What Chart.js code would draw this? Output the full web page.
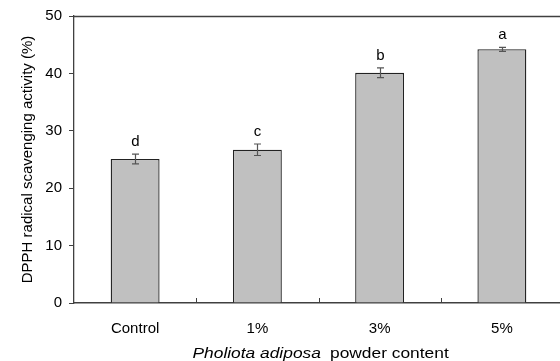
<!DOCTYPE html>
<html>
<head>
<meta charset="utf-8">
<script src="https://cdn.jsdelivr.net/npm/chart.js@4/dist/chart.umd.min.js"></script>
<style>
  html,body{margin:0;padding:0;background:#fff;overflow:hidden}
  #wrap{width:566px;height:361px}
</style>
</head>
<body>
<div id="wrap"><canvas id="c" width="566" height="361"></canvas></div>
<script>
// data
const categories = ['Control', '1%', '3%', '5%'];
const values = [25.1, 26.7, 40.1, 44.2];
const errors = [0.85, 1.0, 0.85, 0.35];
const letters = ['d', 'c', 'b', 'a'];
const yTicks = [0, 10, 20, 30, 40, 50];

const FONT = 'Liberation Sans, Arial, sans-serif';
const AXIS = '#404040';

// error bars, letters, top border, inward x ticks, axis titles
const extras = {
  id: 'extras',
  afterDatasetsDraw(chart){
    const ctx = chart.ctx, y = chart.scales.y, a = chart.chartArea;
    const meta = chart.getDatasetMeta(0);
    ctx.save();
    // top border
    ctx.strokeStyle = AXIS; ctx.lineWidth = 1.3;
    ctx.beginPath(); ctx.moveTo(a.left, a.top + 0.5); ctx.lineTo(a.right, a.top + 0.5); ctx.stroke();
    // x ticks between categories, pointing up
    const step = (a.right - a.left) / categories.length;
    ctx.lineWidth = 1;
    for(let i = 1; i < categories.length; i++){
      const px = Math.round(a.left + step * i) + 0.5;
      ctx.beginPath(); ctx.moveTo(px, a.bottom); ctx.lineTo(px, a.bottom - 5); ctx.stroke();
    }
    // error bars and letters
    meta.data.forEach((bar, i) => {
      const cx = Math.round(bar.x) + 0.5;
      const top = y.getPixelForValue(values[i] + errors[i]);
      const bot = y.getPixelForValue(values[i] - errors[i]);
      ctx.strokeStyle = '#555'; ctx.lineWidth = 1.2;
      ctx.beginPath();
      ctx.moveTo(cx, top); ctx.lineTo(cx, bot);
      ctx.moveTo(cx - 3.5, top); ctx.lineTo(cx + 3.5, top);
      ctx.moveTo(cx - 3.5, bot); ctx.lineTo(cx + 3.5, bot);
      ctx.stroke();
      ctx.fillStyle = '#000'; ctx.font = '15px ' + FONT;
      ctx.textAlign = 'center'; ctx.textBaseline = 'alphabetic';
      ctx.fillText(letters[i], cx, top - 8);
    });
    // x title, mixed italic, slightly wide like the source
    ctx.save();
    ctx.textAlign = 'left'; ctx.textBaseline = 'alphabetic';
    const sx = 1.12;
    ctx.translate(192.5, 357.5);
    ctx.scale(sx, 1);
    ctx.font = 'italic 15.5px ' + FONT;
    ctx.fillText('Pholiota adiposa', 0, 0);
    ctx.font = '15.5px ' + FONT;
    ctx.fillText('powder content', (330 - 192.5) / sx, 0);
    ctx.restore();
    // y title
    ctx.font = '15px ' + FONT;
    ctx.translate(31.5, (a.top + a.bottom) / 2);
    ctx.rotate(-Math.PI / 2);
    ctx.textAlign = 'center';
    ctx.fillText('DPPH radical scavenging activity (%)', 0, 0);
    ctx.restore();
  }
};

new Chart(document.getElementById('c'), {
  type: 'bar',
  data: {
    labels: categories,
    datasets: [{
      data: values,
      backgroundColor: '#c0c0c0',
      borderColor: '#222',
      borderWidth: 1.3,
      barPercentage: 0.4,
      categoryPercentage: 1.0
    }]
  },
  options: {
    responsive: false,
    animation: false,
    layout: { padding: { top: 16, right: 3, left: 0, bottom: 0 } },
    plugins: { legend: { display: false }, tooltip: { enabled: false } },
    scales: {
      x: {
        grid: { display: false },
        border: { color: AXIS, width: 1.5 },
        ticks: { color: '#000', font: { family: FONT, size: 15 }, padding: 9 },
        afterFit(s){ s.height = 58; }
      },
      y: {
        min: 0, max: 50,
        afterBuildTicks(s){ s.ticks = yTicks.map(v => ({ value: v })); },
        grid: { drawOnChartArea: false, drawTicks: true, tickLength: 5, color: AXIS },
        border: { color: AXIS, width: 1.3 },
        ticks: { color: '#000', font: { family: FONT, size: 15 }, padding: 7 },
        afterFit(s){ s.width = 74; }
      }
    }
  },
  plugins: [extras]
});
</script>
</body>
</html>
